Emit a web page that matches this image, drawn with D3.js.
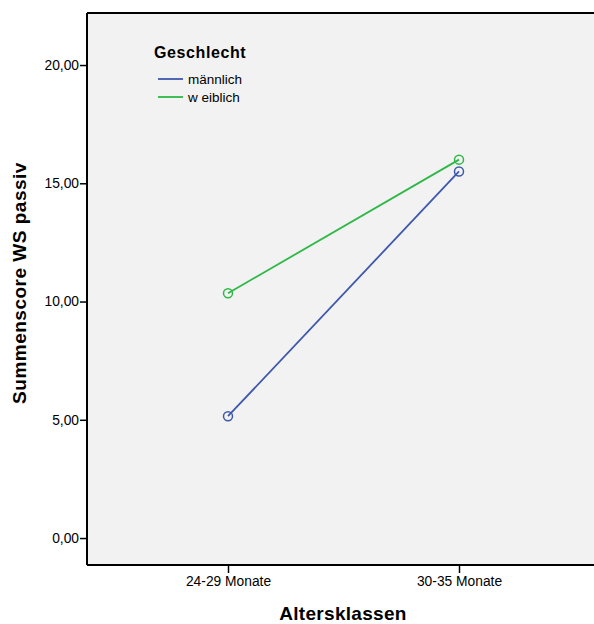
<!DOCTYPE html>
<html><head><meta charset="utf-8">
<script src="https://cdn.jsdelivr.net/npm/d3@7"></script>
<style>body{margin:0;background:#fff}svg{display:block}text{font-family:"Liberation Sans",Arial,sans-serif}</style>
</head><body><svg id="c" width="594" height="624"></svg>
<script>
const categories = ["24-29 Monate", "30-35 Monate"];
const seriesNames = ["männlich", "w eiblich"];
const maennlich = [5.15, 15.5];
const weiblich = [10.35, 16.0];
const yTicks = [0, 5, 10, 15, 20];
const colors = ["#3e58ac", "#2eb848"];

const svg = d3.select("#c");
const L = 87, T = 13, R = 594, B = 565;
const y = d3.scaleLinear().domain([-1.14, 22.2]).range([B, T]);
const x2 = d3.scalePoint().domain(categories).range([228, 459]);

svg.append("rect").attr("x", L).attr("y", T).attr("width", R - L).attr("height", B - T).attr("fill", "#f2f2f2");

const yAxis = svg.append("g").attr("transform", `translate(${L},0)`)
  .call(d3.axisLeft(y).tickValues(yTicks).tickSize(7).tickPadding(1).tickFormat(d => d3.format(".2f")(d).replace(".", ",")));
yAxis.select(".domain").remove();
yAxis.selectAll("line").attr("stroke", "#000").attr("stroke-width", 1.5);
yAxis.selectAll("text").attr("font-size", 13.8).attr("fill", "#000");

const xAxis = svg.append("g").attr("transform", `translate(0,${B})`)
  .call(d3.axisBottom(x2).tickSize(8).tickPadding(3));
xAxis.select(".domain").remove();
xAxis.selectAll("line").attr("stroke", "#000").attr("stroke-width", 1.5);
xAxis.selectAll("text").attr("font-size", 13.8).attr("fill", "#000");

// frame
svg.append("line").attr("x1", L).attr("x2", R).attr("y1", T).attr("y2", T).attr("stroke", "#000").attr("stroke-width", 2);
svg.append("line").attr("x1", L).attr("x2", R).attr("y1", B).attr("y2", B).attr("stroke", "#000").attr("stroke-width", 2);
svg.append("line").attr("x1", L).attr("x2", L).attr("y1", T).attr("y2", B).attr("stroke", "#000").attr("stroke-width", 2);

const series = [maennlich, weiblich];
const line = d3.line().x((d, i) => x2(categories[i])).y(d => y(d));
series.forEach((s, k) => {
  svg.append("path").attr("d", line(s)).attr("fill", "none").attr("stroke", colors[k]).attr("stroke-width", 1.8);
  svg.selectAll(null).data(s).enter().append("circle")
    .attr("cx", (d, i) => x2(categories[i])).attr("cy", d => y(d)).attr("r", 4.5)
    .attr("fill", "none").attr("stroke", colors[k]).attr("stroke-width", 1.5);
});

// legend
svg.append("text").attr("x", 154).attr("y", 58).attr("font-size", 16).attr("letter-spacing", 0.6).attr("font-weight", "bold").text("Geschlecht");
seriesNames.forEach((n, k) => {
  const yy = 79 + k * 18;
  svg.append("line").attr("x1", 158).attr("x2", 183).attr("y1", yy).attr("y2", yy).attr("stroke", colors[k]).attr("stroke-width", 1.8);
  svg.append("text").attr("x", 188).attr("y", yy + 5).attr("font-size", 13.5).text(n);
});

// axis titles
svg.append("text").attr("x", 343).attr("y", 620).attr("text-anchor", "middle").attr("font-size", 19).attr("letter-spacing", 0.3).attr("font-weight", "bold").text("Altersklassen");
svg.append("text").attr("transform", "translate(26,283) rotate(-90)").attr("text-anchor", "middle").attr("font-size", 19).attr("letter-spacing", 0.5).attr("font-weight", "bold").text("Summenscore WS passiv");
</script></body></html>
